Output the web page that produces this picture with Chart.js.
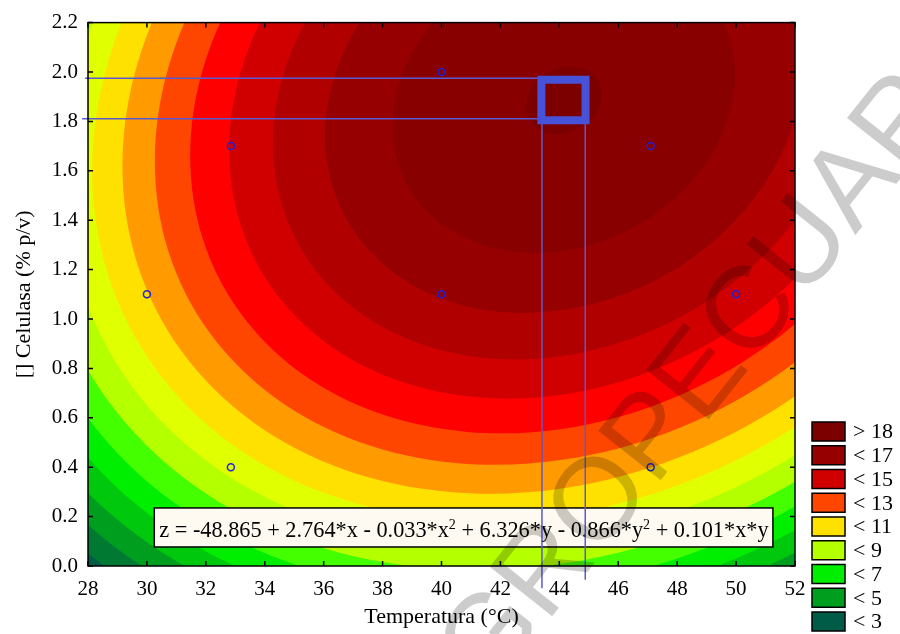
<!DOCTYPE html>
<html>
<head>
<meta charset="utf-8">
<script src="https://cdn.jsdelivr.net/npm/chart.js@4.4.0/dist/chart.umd.min.js"></script>
<style>
  html, body { margin: 0; padding: 0; background: #fff; }
  #wrap { width: 900px; height: 634px; }
</style>
</head>
<body>
<div id="wrap"><canvas id="contourChart" width="900" height="634"></canvas></div>
<script>
// axes
const xTicks = [28, 30, 32, 34, 36, 38, 40, 42, 44, 46, 48, 50, 52];
const yTickValues = [0, 0.2, 0.4, 0.6, 0.8, 1.0, 1.2, 1.4, 1.6, 1.8, 2.0, 2.2];
const yTickLabels = ['0.0', '0.2', '0.4', '0.6', '0.8', '1.0', '1.2', '1.4', '1.6', '1.8', '2.0', '2.2'];

// contour levels (region above each level) and their colours
const contourLevels = [3, 4, 5, 6, 7, 8, 9, 10, 11, 12, 13, 14, 15, 16, 17, 18];
const belowColor = '#005b47';
const levelColors = ['#007a33', '#009e1e', '#00c80c', '#00ee00', '#44ff00', '#b4ff00', '#e0ff00', '#ffe100',
                     '#ff9a00', '#ff4600', '#fe0000', '#d10000', '#b00000', '#970000', '#890000', '#7d0000'];

// legend
const legendLabels = ['> 18', '< 17', '< 15', '< 13', '< 11', '< 9', '< 7', '< 5', '< 3'];
const legendColors = ['#7d0000', '#970000', '#d10000', '#ff4600', '#ffe100', '#b4ff00', '#00ee00', '#009e1e', '#005b47'];

// contour outlines, [temperatura, celulasa]
const contour3 = [[44.15,4.180],[38.49,4.001],[33.21,3.677],[28.68,3.232],[25.20,2.695],[23.02,2.103],[22.27,1.496],[23.02,0.915],[25.20,0.401],[28.68,-0.012],[33.21,-0.296],[38.49,-0.431],[44.15,-0.408],[49.82,-0.229],[55.10,0.095],[59.63,0.540],[63.11,1.077],[65.29,1.670],[66.04,2.277],[65.29,2.857],[63.11,3.371],[59.63,3.784],[55.10,4.068],[49.82,4.203],[44.15,4.180]];
const contour4 = [[44.15,4.103],[38.68,3.929],[33.58,3.617],[29.20,3.187],[25.84,2.668],[23.73,2.095],[23.01,1.509],[23.73,0.948],[25.84,0.451],[29.20,0.052],[33.58,-0.222],[38.68,-0.353],[44.15,-0.331],[49.63,-0.157],[54.73,0.155],[59.11,0.586],[62.47,1.104],[64.58,1.677],[65.30,2.263],[64.58,2.824],[62.47,3.321],[59.11,3.720],[54.73,3.994],[49.63,4.125],[44.15,4.103]];
const contour5 = [[44.15,4.022],[38.88,3.855],[33.96,3.554],[29.74,3.140],[26.51,2.639],[24.47,2.088],[23.78,1.522],[24.47,0.982],[26.51,0.503],[29.74,0.118],[33.96,-0.146],[38.88,-0.272],[44.15,-0.250],[49.43,-0.083],[54.34,0.218],[58.56,0.633],[61.80,1.133],[63.84,1.684],[64.53,2.250],[63.84,2.790],[61.80,3.269],[58.56,3.654],[54.34,3.918],[49.43,4.044],[44.15,4.022]];
const contour6 = [[44.15,3.939],[39.09,3.779],[34.36,3.489],[30.31,3.091],[27.20,2.610],[25.24,2.080],[24.57,1.537],[25.24,1.017],[27.20,0.557],[30.31,0.187],[34.36,-0.067],[39.09,-0.187],[44.15,-0.167],[49.22,-0.007],[53.95,0.283],[58.00,0.682],[61.11,1.162],[63.07,1.692],[63.74,2.235],[63.07,2.755],[61.11,3.215],[58.00,3.585],[53.95,3.839],[49.22,3.959],[44.15,3.939]];
const contour7 = [[44.15,3.852],[39.30,3.698],[34.78,3.421],[30.89,3.040],[27.91,2.579],[26.04,2.072],[25.40,1.551],[26.04,1.054],[27.91,0.613],[30.89,0.259],[34.78,0.016],[39.30,-0.100],[44.15,-0.080],[49.01,0.074],[53.53,0.351],[57.42,0.732],[60.40,1.193],[62.27,1.700],[62.91,2.221],[62.27,2.718],[60.40,3.159],[57.42,3.513],[53.53,3.756],[49.01,3.872],[44.15,3.852]];
const contour8 = [[44.15,3.761],[39.53,3.615],[35.21,3.350],[31.51,2.986],[28.66,2.547],[26.88,2.063],[26.27,1.567],[26.88,1.092],[28.66,0.672],[31.51,0.334],[35.21,0.103],[39.53,-0.008],[44.15,0.011],[48.78,0.157],[53.10,0.422],[56.80,0.786],[59.64,1.225],[61.43,1.709],[62.04,2.205],[61.43,2.680],[59.64,3.100],[56.80,3.438],[53.10,3.669],[48.78,3.780],[44.15,3.761]];
const contour9 = [[44.15,3.665],[39.76,3.526],[35.67,3.276],[32.15,2.930],[29.45,2.513],[27.76,2.054],[27.18,1.583],[27.76,1.133],[29.45,0.734],[32.15,0.414],[35.67,0.194],[39.76,0.089],[44.15,0.107],[48.55,0.246],[52.64,0.497],[56.16,0.842],[58.85,1.259],[60.55,1.718],[61.13,2.189],[60.55,2.639],[58.85,3.038],[56.16,3.358],[52.64,3.579],[48.55,3.683],[44.15,3.665]];
const contour10 = [[44.15,3.564],[40.01,3.433],[36.15,3.197],[32.83,2.871],[30.29,2.478],[28.69,2.044],[28.14,1.600],[28.69,1.176],[30.29,0.799],[32.83,0.497],[36.15,0.290],[40.01,0.191],[44.15,0.208],[48.30,0.339],[52.16,0.575],[55.48,0.901],[58.02,1.294],[59.62,1.728],[60.17,2.172],[59.62,2.596],[58.02,2.973],[55.48,3.275],[52.16,3.482],[48.30,3.581],[44.15,3.564]];
const contour11 = [[44.15,3.457],[40.28,3.334],[36.66,3.113],[33.56,2.808],[31.18,2.440],[29.68,2.034],[29.17,1.619],[29.68,1.221],[31.18,0.869],[33.56,0.586],[36.66,0.392],[40.28,0.300],[44.15,0.315],[48.03,0.438],[51.65,0.659],[54.75,0.964],[57.13,1.332],[58.63,1.738],[59.14,2.153],[58.63,2.551],[57.13,2.903],[54.75,3.186],[51.65,3.380],[48.03,3.473],[44.15,3.457]];
const contour12 = [[44.15,3.342],[40.56,3.228],[37.21,3.023],[34.34,2.740],[32.13,2.399],[30.74,2.023],[30.27,1.638],[30.74,1.270],[32.13,0.944],[34.34,0.682],[37.21,0.502],[40.56,0.416],[44.15,0.431],[47.75,0.544],[51.10,0.749],[53.97,1.032],[56.18,1.373],[57.57,1.749],[58.04,2.134],[57.57,2.502],[56.18,2.828],[53.97,3.090],[51.10,3.270],[47.75,3.356],[44.15,3.342]];
const contour13 = [[44.15,3.216],[40.87,3.112],[37.81,2.925],[35.18,2.666],[33.17,2.355],[31.90,2.012],[31.47,1.660],[31.90,1.323],[33.17,1.025],[35.18,0.785],[37.81,0.621],[40.87,0.543],[44.15,0.556],[47.44,0.660],[50.50,0.847],[53.13,1.106],[55.14,1.417],[56.41,1.761],[56.84,2.112],[56.41,2.449],[55.14,2.747],[53.13,2.987],[50.50,3.151],[47.44,3.229],[44.15,3.216]];
const contour14 = [[44.15,3.078],[41.21,2.985],[38.47,2.817],[36.12,2.585],[34.31,2.306],[33.18,1.999],[32.79,1.683],[33.18,1.382],[34.31,1.115],[36.12,0.900],[38.47,0.753],[41.21,0.683],[44.15,0.694],[47.10,0.788],[49.84,0.956],[52.19,1.187],[54.00,1.466],[55.13,1.774],[55.52,2.089],[55.13,2.390],[54.00,2.657],[52.19,2.872],[49.84,3.019],[47.10,3.090],[44.15,3.078]];
const contour15 = [[44.15,2.921],[41.60,2.840],[39.22,2.694],[37.18,2.493],[35.61,2.251],[34.62,1.984],[34.28,1.710],[34.62,1.448],[35.61,1.216],[37.18,1.030],[39.22,0.902],[41.60,0.841],[44.15,0.851],[46.71,0.932],[49.09,1.078],[51.13,1.279],[52.70,1.521],[53.69,1.788],[54.02,2.062],[53.69,2.324],[52.70,2.556],[51.13,2.742],[49.09,2.870],[46.71,2.931],[44.15,2.921]];
const contour16 = [[44.15,2.735],[42.06,2.669],[40.10,2.549],[38.43,2.384],[37.14,2.186],[36.33,1.966],[36.05,1.741],[36.33,1.527],[37.14,1.336],[38.43,1.183],[40.10,1.078],[42.06,1.028],[44.15,1.037],[46.25,1.103],[48.21,1.223],[49.88,1.388],[51.17,1.587],[51.98,1.806],[52.26,2.031],[51.98,2.246],[51.17,2.436],[49.88,2.589],[48.21,2.694],[46.25,2.744],[44.15,2.735]];
const contour17 = [[44.15,2.496],[42.65,2.448],[41.25,2.362],[40.04,2.244],[39.12,2.101],[38.53,1.944],[38.34,1.782],[38.53,1.628],[39.12,1.491],[40.04,1.381],[41.25,1.306],[42.65,1.270],[44.15,1.276],[45.66,1.324],[47.06,1.410],[48.27,1.528],[49.19,1.671],[49.77,1.829],[49.97,1.990],[49.77,2.144],[49.19,2.281],[48.27,2.391],[47.06,2.466],[45.66,2.502],[44.15,2.496]];
const contour18 = [[44.15,2.022],[43.51,1.992],[43.03,1.934],[42.86,1.863],[43.03,1.798],[43.51,1.757],[44.15,1.750],[44.80,1.780],[45.28,1.838],[45.45,1.909],[45.28,1.974],[44.80,2.015],[44.15,2.022]];
const contours = [contour3, contour4, contour5, contour6, contour7, contour8, contour9, contour10,
                  contour11, contour12, contour13, contour14, contour15, contour16, contour17, contour18];

// experimental design points
const designX = [30, 32.85, 32.85, 40, 40, 47.1, 47.1, 50];
const designY = [1.1, 1.7, 0.4, 2.0, 1.1, 1.7, 0.4, 1.1];

// optimum marker and guide lines
const optimumBox = [[43.39, 1.805], [43.39, 1.969], [44.89, 1.969], [44.89, 1.805], [43.39, 1.805]];
const guideTop = [[27.9, 1.975], [43.39, 1.975]];
const guideBottom = [[27.8, 1.811], [43.39, 1.811]];
const guideLeft = [[43.41, 1.805], [43.41, -0.09]];
const guideRight = [[44.88, 1.805], [44.88, -0.056]];

const equationParts = [
  ['z = -48.865 + 2.764*x - 0.033*x', false], ['2', true],
  [' + 6.326*y - 0.866*y', false], ['2', true],
  [' + 0.101*x*y', false]
];
const equationBox = {x1: 30.25, x2: 51.25, y1: 0.235, y2: 0.077};

const serif = "'Liberation Serif', 'Times New Roman', serif";
Chart.defaults.font.family = serif;
Chart.defaults.color = '#000';

const toXY = pts => pts.map(p => ({x: p[0], y: p[1]}));

const overlaySets = [
  { data: designX.map((x, i) => ({x, y: designY[i]})), showLine: false, pointRadius: 3.5,
    pointBorderWidth: 1.5, pointBorderColor: '#2020d4', pointBackgroundColor: 'rgba(0,0,0,0)', clip: false },
  { data: toXY(optimumBox), showLine: true, pointRadius: 0, borderWidth: 8, borderColor: '#4652d8',
    borderJoinStyle: 'miter', borderCapStyle: 'square', fill: false, clip: false },
  { data: toXY(guideTop), showLine: true, pointRadius: 0, borderWidth: 1.5, borderColor: '#5a5ad0', fill: false, clip: false },
  { data: toXY(guideBottom), showLine: true, pointRadius: 0, borderWidth: 1.5, borderColor: '#5a5ad0', fill: false, clip: false },
  { data: toXY(guideLeft), showLine: true, pointRadius: 0, borderWidth: 1.5, borderColor: '#5a5ad0', fill: false, clip: false },
  { data: toXY(guideRight), showLine: true, pointRadius: 0, borderWidth: 1.5, borderColor: '#5a5ad0', fill: false, clip: false }
];

const contourSets = contours.map((pts, i) => ({
  label: 'z > ' + contourLevels[i],
  data: toXY(pts), showLine: true, fill: 'shape', backgroundColor: levelColors[i],
  borderColor: 'rgba(0,0,0,0)', borderWidth: 0, pointRadius: 0, tension: 0.34, clip: 0
})).reverse();

const boxAfterIndex = overlaySets.length; // highest contour, drawn last of the surface

function drawEquation(chart) {
  const {ctx, scales: {x, y}} = chart;
  const left = x.getPixelForValue(equationBox.x1), right = x.getPixelForValue(equationBox.x2);
  const top = y.getPixelForValue(equationBox.y1), bottom = y.getPixelForValue(equationBox.y2);
  ctx.save();
  ctx.fillStyle = '#fffaf1';
  ctx.fillRect(left, top, right - left, bottom - top);
  ctx.strokeStyle = '#000';
  ctx.lineWidth = 1.5;
  ctx.strokeRect(left, top, right - left, bottom - top);
  ctx.fillStyle = '#000';
  ctx.textBaseline = 'alphabetic';
  let cx = left + 5;
  const base = bottom - 9.5;
  equationParts.forEach(([txt, sup]) => {
    ctx.font = (sup ? '14px ' : '22.3px ') + serif;
    ctx.fillText(txt, cx, sup ? base - 8 : base);
    cx += ctx.measureText(txt).width;
  });
  ctx.restore();
}

const surfacePlugin = {
  id: 'surfacePlugin',
  beforeDatasetsDraw(chart) {
    const {ctx, chartArea: a} = chart;
    ctx.save();
    ctx.fillStyle = belowColor;
    ctx.fillRect(a.left, a.top, a.right - a.left, a.bottom - a.top);
    ctx.restore();
  },
  afterDatasetDraw(chart, args) {
    if (args.index === boxAfterIndex) drawEquation(chart);
  },
  afterDatasetsDraw(chart) {
    const {ctx, chartArea: a, scales: {x, y}} = chart;
    ctx.save();
    ctx.strokeStyle = '#000';
    ctx.lineWidth = 1.5;
    ctx.strokeRect(a.left, a.top, a.right - a.left, a.bottom - a.top);
    ctx.beginPath();
    xTicks.forEach(v => {
      const px = x.getPixelForValue(v);
      ctx.moveTo(px, a.bottom); ctx.lineTo(px, a.bottom - 5);
      ctx.moveTo(px, a.top); ctx.lineTo(px, a.top + 5);
    });
    yTickValues.forEach(v => {
      const py = y.getPixelForValue(v);
      ctx.moveTo(a.left, py); ctx.lineTo(a.left + 5, py);
      ctx.moveTo(a.right, py); ctx.lineTo(a.right - 5, py);
    });
    ctx.stroke();
    ctx.restore();
  },
  afterDraw(chart) {
    const ctx = chart.ctx;
    // legend
    ctx.save();
    ctx.font = '22px ' + serif;
    ctx.textBaseline = 'middle';
    legendLabels.forEach((lab, i) => {
      const top = 422 + i * 23.75;
      ctx.fillStyle = legendColors[i];
      ctx.fillRect(812, top, 33, 19);
      ctx.strokeStyle = '#000';
      ctx.lineWidth = 1.5;
      ctx.strokeRect(812, top, 33, 19);
      ctx.fillStyle = '#000';
      ctx.fillText(lab, 853, top + 10.5);
    });
    ctx.restore();
    // watermark
    ctx.save();
    ctx.translate(442, 755);
    ctx.rotate(-51.5 * Math.PI / 180);
    ctx.font = "116px 'Liberation Sans', Arial, sans-serif";
    ctx.fillStyle = 'rgba(0,0,0,0.2)';
    ctx.fillText('AGROPECUARIA', 0, 0);
    ctx.restore();
  }
};

new Chart(document.getElementById('contourChart'), {
  type: 'scatter',
  data: { datasets: overlaySets.concat(contourSets) },
  options: {
    responsive: false,
    devicePixelRatio: 1,
    animation: false,
    events: [],
    layout: { padding: { top: 21, right: 105, bottom: 0, left: 0 } },
    elements: { line: { capBezierPoints: false } },
    plugins: { legend: { display: false }, tooltip: { enabled: false } },
    scales: {
      x: {
        type: 'linear', min: 28, max: 52,
        afterBuildTicks: s => { s.ticks = xTicks.map(v => ({value: v})); },
        afterFit: s => { s.height = 68; },
        grid: { display: false, drawTicks: false },
        border: { display: false },
        ticks: { padding: 11, maxRotation: 0, autoSkip: false, font: { size: 21 }, color: '#000',
                 callback: v => String(v) },
        title: { display: true, text: 'Temperatura (°C)', font: { size: 22 }, color: '#000',
                 padding: { top: 0, bottom: 4 } }
      },
      y: {
        type: 'linear', min: 0, max: 2.2,
        afterBuildTicks: s => { s.ticks = yTickValues.map(v => ({value: v})); },
        afterFit: s => { s.width = 88; },
        grid: { display: false, drawTicks: false },
        border: { display: false },
        ticks: { padding: 10, autoSkip: false, font: { size: 21 }, color: '#000',
                 callback: (v, i) => yTickLabels[i] },
        title: { display: true, text: '[] Celulasa (% p/v)', font: { size: 22 }, color: '#000',
                 padding: { top: 11, bottom: 0 } }
      }
    }
  },
  plugins: [surfacePlugin]
});
</script>
</body>
</html>
